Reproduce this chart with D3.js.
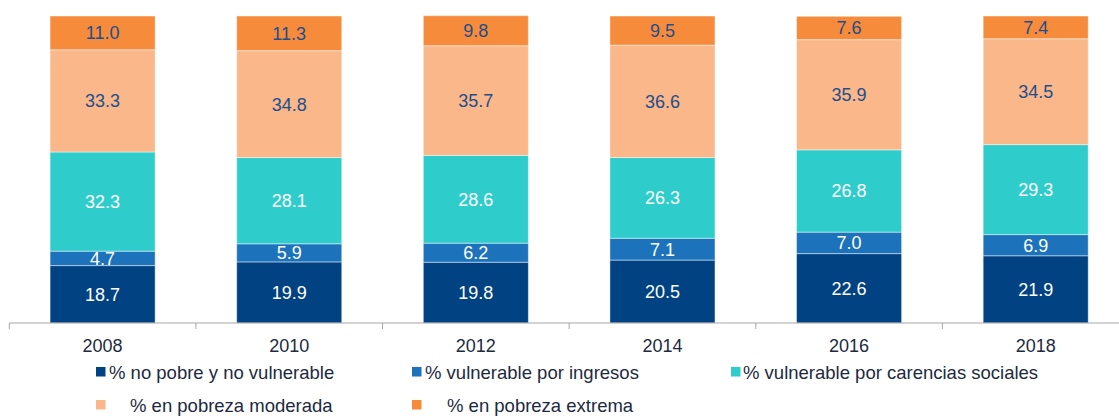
<!DOCTYPE html>
<html>
<head>
<meta charset="utf-8">
<script src="https://cdn.jsdelivr.net/npm/d3@7"></script>
<style>
  body { margin: 0; background: #fff; }
  text { font-family: "Liberation Sans", Arial, sans-serif; }
</style>
</head>
<body>
<div id="chart"></div>
<script>
var years = ["2008", "2010", "2012", "2014", "2016", "2018"];
var seriesNames = [
    "% no pobre y no vulnerable",
    "% vulnerable por ingresos",
    "% vulnerable por carencias sociales",
    "% en pobreza moderada",
    "% en pobreza extrema"
];
var noPobre = [18.7, 19.9, 19.8, 20.5, 22.6, 21.9];
var vulnIngresos = [4.7, 5.9, 6.2, 7.1, 7.0, 6.9];
var vulnCarencias = [32.3, 28.1, 28.6, 26.3, 26.8, 29.3];
var pobrezaModerada = [33.3, 34.8, 35.7, 36.6, 35.9, 34.5];
var pobrezaExtrema = [11.0, 11.3, 9.8, 9.5, 7.6, 7.4];

var colors = ["#004282", "#1c73bb", "#2ecdcc", "#f9b78a", "#f68b3b"];
var labelColors = ["#ffffff", "#ffffff", "#ffffff", "#1f4e8c", "#1f4e8c"];

function drawChart() {
    var width = 1119, height = 416;
    var allSeries = [noPobre, vulnIngresos, vulnCarencias, pobrezaModerada, pobrezaExtrema];

    // one row per year, keyed by series index
    var rows = years.map(function (year, i) {
        var row = { year: year };
        allSeries.forEach(function (s, k) { row[k] = s[i]; });
        return row;
    });

    var stack = d3.stack().keys(d3.range(allSeries.length));
    var stacked = stack(rows);

    var pad = 0.437;
    var x = d3.scaleBand()
        .domain(years)
        .range([9.3, 1129])
        .paddingInner(pad)
        .paddingOuter(pad / 2);

    var y = d3.scaleLinear()
        .domain([0, 100])
        .range([323, 16]);

    var svg = d3.select("#chart")
        .append("svg")
        .attr("width", width)
        .attr("height", height);

    var groups = svg.selectAll("g.series")
        .data(stacked)
        .enter().append("g")
        .attr("class", "series")
        .attr("fill", function (d) { return colors[d.key]; });

    groups.selectAll("rect")
        .data(function (d) { return d; })
        .enter().append("rect")
        .attr("x", function (d) { return x(d.data.year); })
        .attr("y", function (d) { return y(d[1]); })
        .attr("width", x.bandwidth())
        .attr("height", function (d) { return y(d[0]) - y(d[1]); })
        .attr("stroke", "#ffffff")
        .attr("stroke-opacity", 0.45)
        .attr("stroke-width", 1);

    groups.each(function (s) {
        d3.select(this).selectAll("text")
            .data(s)
            .enter().append("text")
            .attr("x", function (d) { return x(d.data.year) + x.bandwidth() / 2; })
            .attr("y", function (d) { return (y(d[0]) + y(d[1])) / 2; })
            .attr("dy", "0.36em")
            .attr("text-anchor", "middle")
            .attr("font-size", "18px")
            .attr("fill", labelColors[s.key])
            .text(function (d) { return (d[1] - d[0]).toFixed(1); });
    });

    // category axis: line with ticks between the bands
    var axis = svg.append("g").attr("class", "x axis");
    axis.append("line")
        .attr("x1", 9.3).attr("x2", width)
        .attr("y1", y(0)).attr("y2", y(0))
        .attr("stroke", "#a6a6a6")
        .attr("stroke-width", 1);

    var step = x.step();
    var bounds = years.map(function (yr) { return x(yr) - step * pad / 2; });
    axis.selectAll("line.tick")
        .data(bounds)
        .enter().append("line")
        .attr("class", "tick")
        .attr("x1", function (d) { return d; })
        .attr("x2", function (d) { return d; })
        .attr("y1", y(0))
        .attr("y2", y(0) + 6)
        .attr("stroke", "#a6a6a6");

    axis.selectAll("text")
        .data(years)
        .enter().append("text")
        .attr("x", function (d) { return x(d) + x.bandwidth() / 2; })
        .attr("y", 352)
        .attr("text-anchor", "middle")
        .attr("font-size", "18px")
        .attr("fill", "#1d2a40")
        .text(function (d) { return d; });

    // legend laid out like the original: three on the first row, two below
    var legendPos = [
        { sx: 96, tx: 109, y: 372 },
        { sx: 412, tx: 425, y: 372 },
        { sx: 731, tx: 743, y: 372 },
        { sx: 96, tx: 130, y: 405 },
        { sx: 412, tx: 447, y: 405 }
    ];
    var legend = svg.selectAll("g.legend")
        .data(seriesNames)
        .enter().append("g")
        .attr("class", "legend");

    legend.append("rect")
        .attr("x", function (d, i) { return legendPos[i].sx; })
        .attr("y", function (d, i) { return legendPos[i].y - 5; })
        .attr("width", 9.5)
        .attr("height", 9.5)
        .attr("fill", function (d, i) { return colors[i]; });

    legend.append("text")
        .attr("x", function (d, i) { return legendPos[i].tx; })
        .attr("y", function (d, i) { return legendPos[i].y; })
        .attr("dy", "0.36em")
        .attr("font-size", "18.5px")
        .attr("fill", "#1d2a40")
        .text(function (d) { return d; });
}

drawChart();
</script>
</body>
</html>
